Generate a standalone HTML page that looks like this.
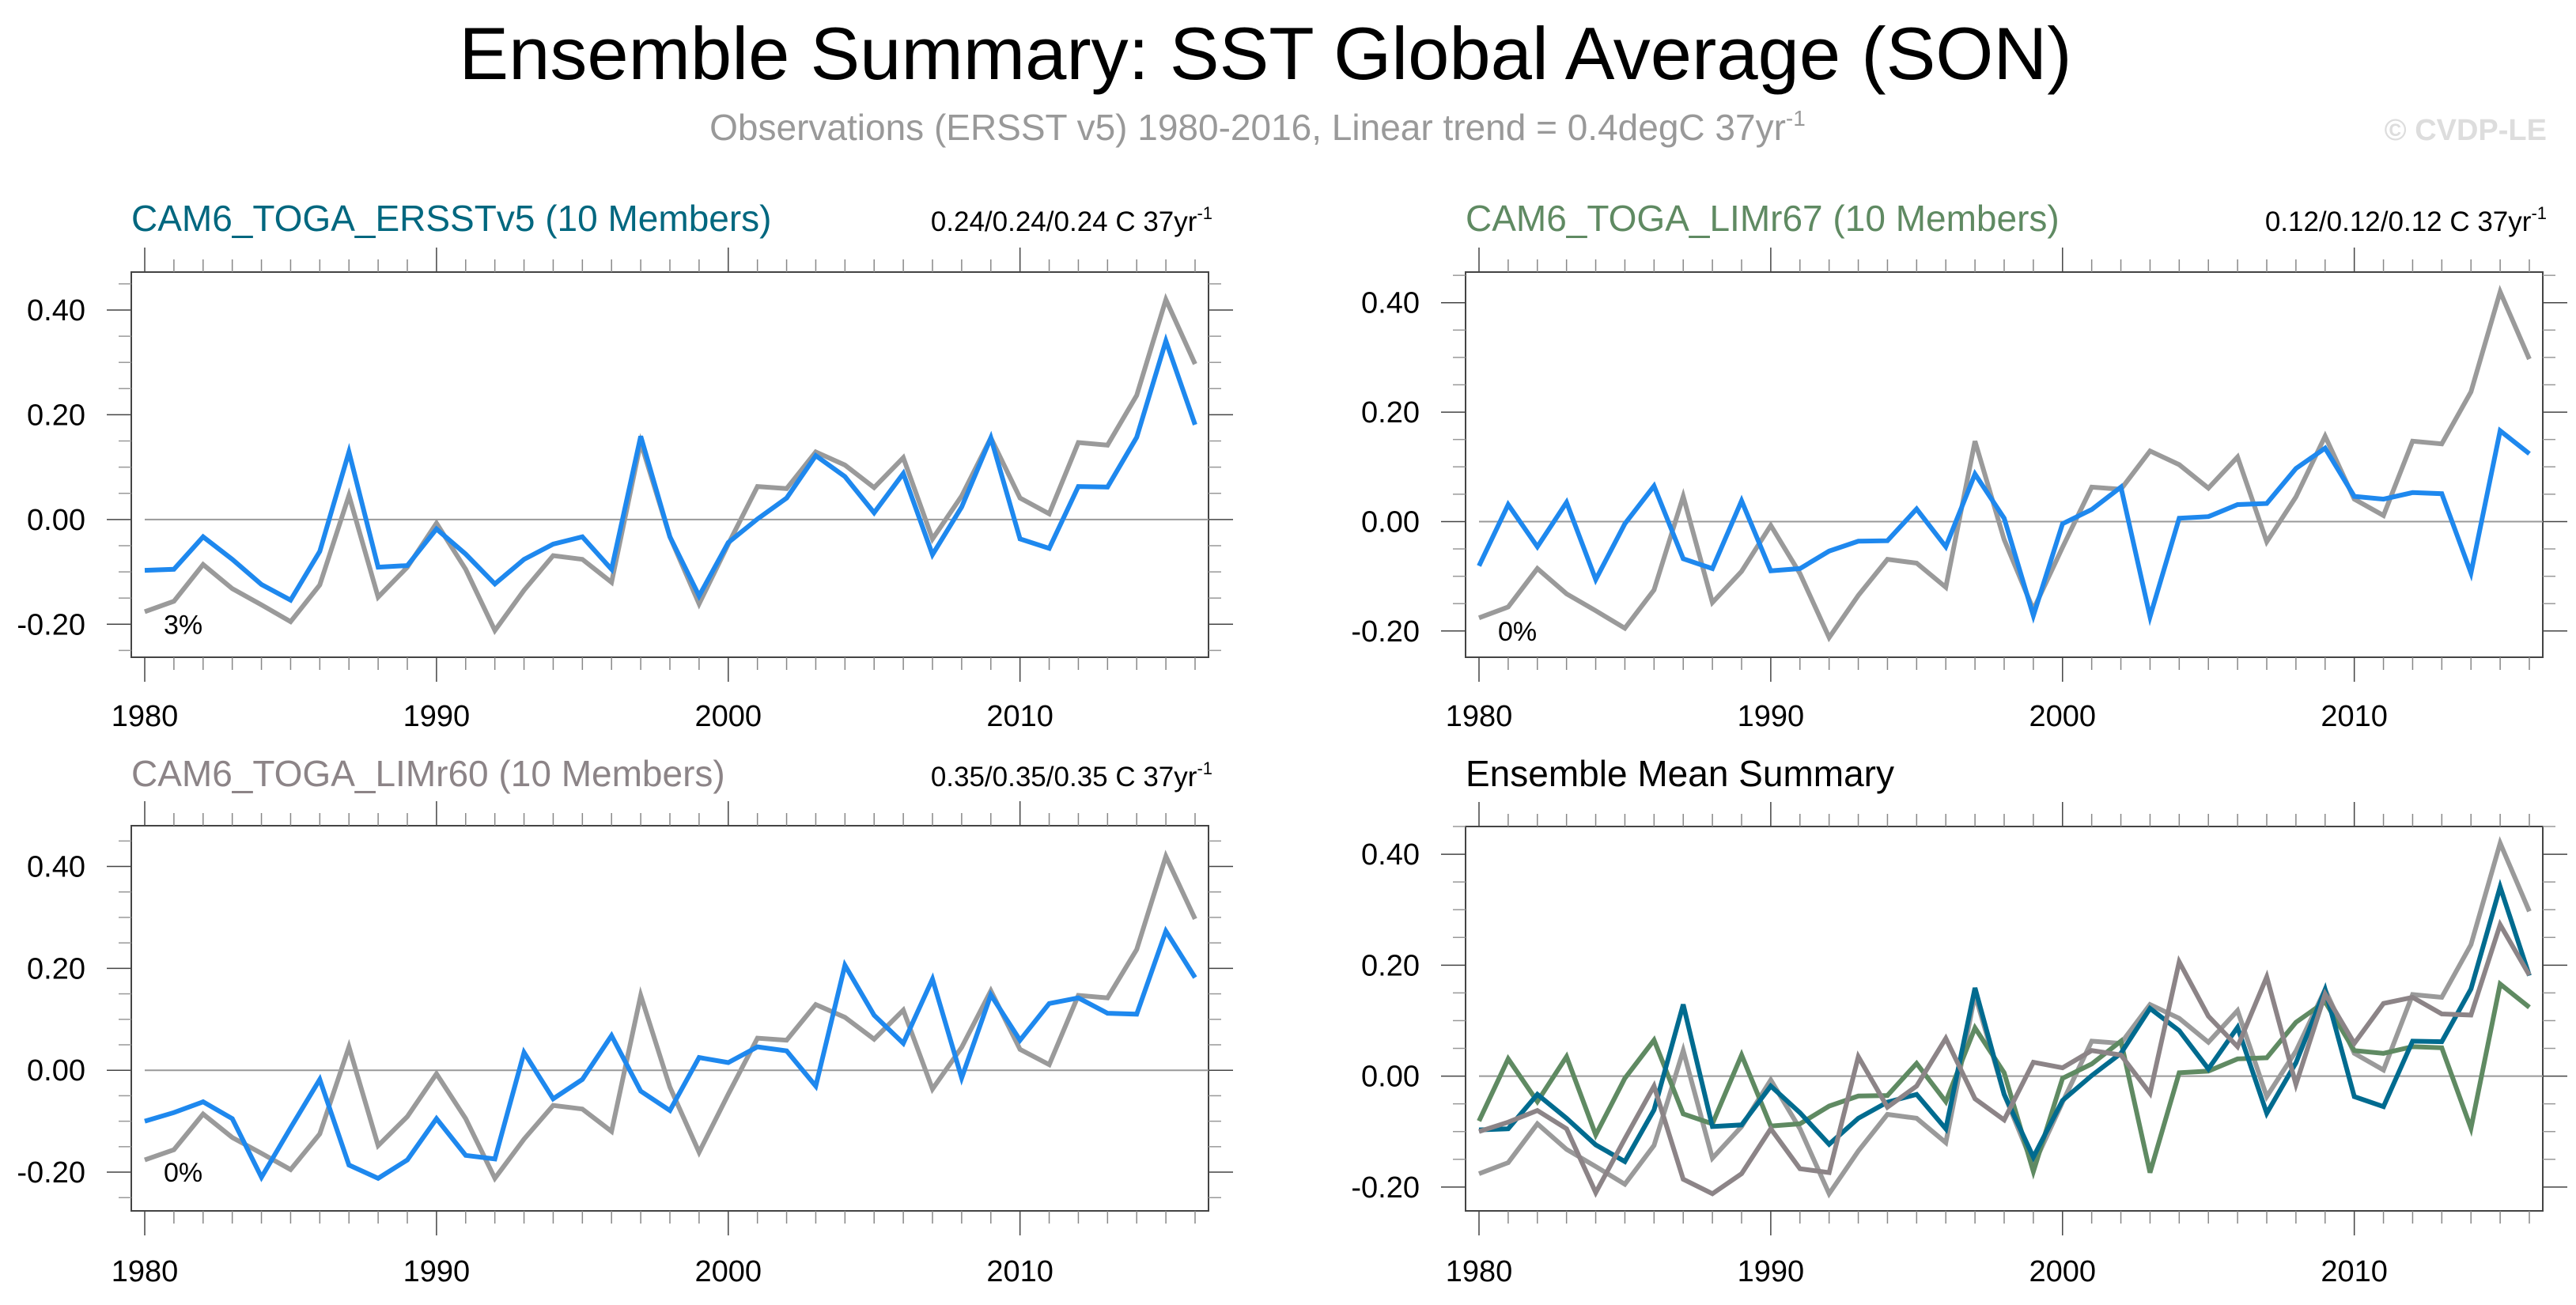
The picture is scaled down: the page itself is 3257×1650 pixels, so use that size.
<!DOCTYPE html>
<html><head><meta charset="utf-8"><style>
html,body{margin:0;padding:0;background:#fff}
svg{display:block;font-family:"Liberation Sans",Arial,sans-serif}
</style></head><body>
<svg id="chart" width="3257" height="1650" viewBox="0 0 3257 1650">
<text x="1600" y="100" font-size="94" text-anchor="middle" fill="#000">Ensemble Summary: SST Global Average (SON)</text>
<text x="1590" y="177" font-size="46" text-anchor="middle" fill="#999">Observations (ERSST v5) 1980-2016, Linear trend = 0.4degC 37yr<tspan dy="-18" font-size="28">-1</tspan></text>
<text x="3220" y="177" font-size="38" font-weight="bold" text-anchor="end" fill="#ddd">© CVDP-LE</text>
<g id="plots"></g>
</svg>
<script>
const years = [1980,1981,1982,1983,1984,1985,1986,1987,1988,1989,1990,1991,1992,1993,1994,1995,1996,1997,1998,1999,2000,2001,2002,2003,2004,2005,2006,2007,2008,2009,2010,2011,2012,2013,2014,2015,2016];
const obsValues = [-0.176,-0.156,-0.086,-0.132,-0.163,-0.195,-0.125,0.046,-0.148,-0.091,-0.007,-0.095,-0.212,-0.135,-0.069,-0.076,-0.120,0.147,-0.033,-0.161,-0.047,0.063,0.059,0.129,0.104,0.061,0.118,-0.037,0.045,0.156,0.041,0.011,0.147,0.142,0.237,0.420,0.297];
const erssValues = [-0.097,-0.095,-0.033,-0.076,-0.124,-0.154,-0.061,0.129,-0.091,-0.088,-0.018,-0.066,-0.123,-0.076,-0.047,-0.033,-0.095,0.159,-0.033,-0.146,-0.044,0.001,0.041,0.122,0.082,0.013,0.088,-0.067,0.024,0.156,-0.037,-0.055,0.063,0.062,0.157,0.341,0.181];
const lim67Values = [-0.081,0.031,-0.046,0.035,-0.106,-0.004,0.065,-0.068,-0.086,0.038,-0.090,-0.086,-0.054,-0.036,-0.035,0.023,-0.046,0.087,0.006,-0.172,-0.004,0.022,0.063,-0.174,0.006,0.009,0.031,0.033,0.097,0.134,0.046,0.041,0.053,0.051,-0.094,0.166,0.124];
const lim60Values = [-0.100,-0.083,-0.062,-0.095,-0.210,-0.113,-0.018,-0.186,-0.212,-0.176,-0.095,-0.167,-0.174,0.035,-0.056,-0.018,0.068,-0.041,-0.079,0.025,0.015,0.046,0.038,-0.031,0.206,0.108,0.053,0.179,-0.015,0.148,0.059,0.131,0.142,0.112,0.110,0.273,0.182];
const yTickValues = [-0.20,0.00,0.20,0.40];
const yTickLabels = ["-0.20","0.00","0.20","0.40"];
const xTickYears = [1980,1990,2000,2010];
const xTickLabels = ["1980","1990","2000","2010"];

const NS='http://www.w3.org/2000/svg';
const root=document.getElementById('plots');
function mk(tag,attrs,parent){const e=document.createElementNS(NS,tag);for(const k in attrs)e.setAttribute(k,attrs[k]);(parent||root).appendChild(e);return e;}

const panels=[
 {name:'erss',x0:166,x1:1528,y0:344,y1:831,vmax:0.4725,vmin:-0.263,title:'CAM6_TOGA_ERSSTv5 (10 Members)',tcol:'#00677f',trend:'0.24/0.24/0.24 C 37yr',pct:'3%',ty:292,lab:918,series:[[obsValues,'#9a9a9a'],[erssValues,'#1e88ee']]},
 {name:'lim67',x0:1853,x1:3215,y0:344,y1:831,vmax:0.456,vmin:-0.248,title:'CAM6_TOGA_LIMr67 (10 Members)',tcol:'#5f8a62',trend:'0.12/0.12/0.12 C 37yr',pct:'0%',ty:292,lab:918,series:[[obsValues,'#9a9a9a'],[lim67Values,'#1e88ee']]},
 {name:'lim60',x0:166,x1:1528,y0:1044,y1:1531,vmax:0.48,vmin:-0.276,title:'CAM6_TOGA_LIMr60 (10 Members)',tcol:'#8c8487',trend:'0.35/0.35/0.35 C 37yr',pct:'0%',ty:994,lab:1620,series:[[obsValues,'#9a9a9a'],[lim60Values,'#1e88ee']]},
 {name:'summary',x0:1853,x1:3215,y0:1045,y1:1531,vmax:0.45,vmin:-0.243,title:'Ensemble Mean Summary',tcol:'#000',trend:null,pct:null,ty:994,lab:1620,series:[[obsValues,'#9a9a9a'],[lim67Values,'#5f8a62'],[erssValues,'#006b8f'],[lim60Values,'#8c8487']]}
];

panels.forEach(p=>{
 const g=mk('g',{});
 
 
 const xl=p.x0+17, xr=p.x1-17;
 const X=yr=>xl+(yr-1980)/(2016-1980)*(xr-xl);
 const Y=v=>p.y0+(p.vmax-v)/(p.vmax-p.vmin)*(p.y1-p.y0);
 const box=mk('rect',{x:p.x0,y:p.y0,width:p.x1-p.x0,height:p.y1-p.y0,fill:'none',stroke:'#444','stroke-width':2},g);
 
 
 years.forEach(yr=>{
  const major=(yr%10===0), len=major?31:16, x=X(yr);
  const t1=mk('line',{x1:x,x2:x,y1:p.y0,y2:p.y0-len,stroke:major?'#444':'#888','stroke-width':1.5},g);
  
  
  const t2=mk('line',{x1:x,x2:x,y1:p.y1,y2:p.y1+len,stroke:major?'#444':'#888','stroke-width':1.5},g);
  
  
 });
 xTickYears.forEach((yr,i)=>{
  const t=mk('text',{x:X(yr),y:p.lab,'font-size':38,'text-anchor':'middle',fill:'#000'},g);
  t.textContent=xTickLabels[i];
  
  
 });
 for(let v=-0.25;v<=0.451;v+=0.05){
  const vv=Math.round(v*100)/100; if(vv<p.vmin||vv>p.vmax)continue;
  const major=Math.abs(Math.round(vv*100)%20)===0, len=major?31:16, y=Y(vv);
  const a=mk('line',{x1:p.x0,x2:p.x0-len,y1:y,y2:y,stroke:major?'#444':'#999','stroke-width':1.5},g);
  
  
  const b=mk('line',{x1:p.x1,x2:p.x1+len,y1:y,y2:y,stroke:major?'#444':'#999','stroke-width':1.5},g);
  
  
 }
 yTickValues.forEach((v,i)=>{
  const t=mk('text',{x:p.x0-58,y:Y(v)+13,'font-size':38,'text-anchor':'end',fill:'#000'},g);
  t.textContent=yTickLabels[i];
  
  
 });
 const z=mk('line',{x1:xl,x2:p.x1,y1:Y(0),y2:Y(0),stroke:'#999','stroke-width':2},g);
 
 
 p.series.forEach((s,si)=>{
  const pts=s[0].map((v,i)=>X(years[i]).toFixed(1)+','+Y(v).toFixed(1)).join(' ');
  const l=mk('polyline',{points:pts,fill:'none',stroke:s[1],'stroke-width':6,'stroke-linejoin':'miter'},g);
  
  
 });
 const tt=mk('text',{x:p.x0,y:p.ty,'font-size':46,fill:p.tcol},g);
 tt.textContent=p.title;
 
 
 if(p.trend){
  const tr=mk('text',{x:p.x1+5,y:p.ty,'font-size':35,'text-anchor':'end',fill:'#000'},g);
  tr.textContent=p.trend;
  const sup=mk('tspan',{dy:-15,'font-size':22},tr);
  sup.textContent='-1';
  
  
 }
 if(p.pct){
  const pc=mk('text',{x:xl+24,y:Y(-0.2)+12,'font-size':34,fill:'#000'},g);
  pc.textContent=p.pct;
  
  
 }
});
</script>
</body></html>
